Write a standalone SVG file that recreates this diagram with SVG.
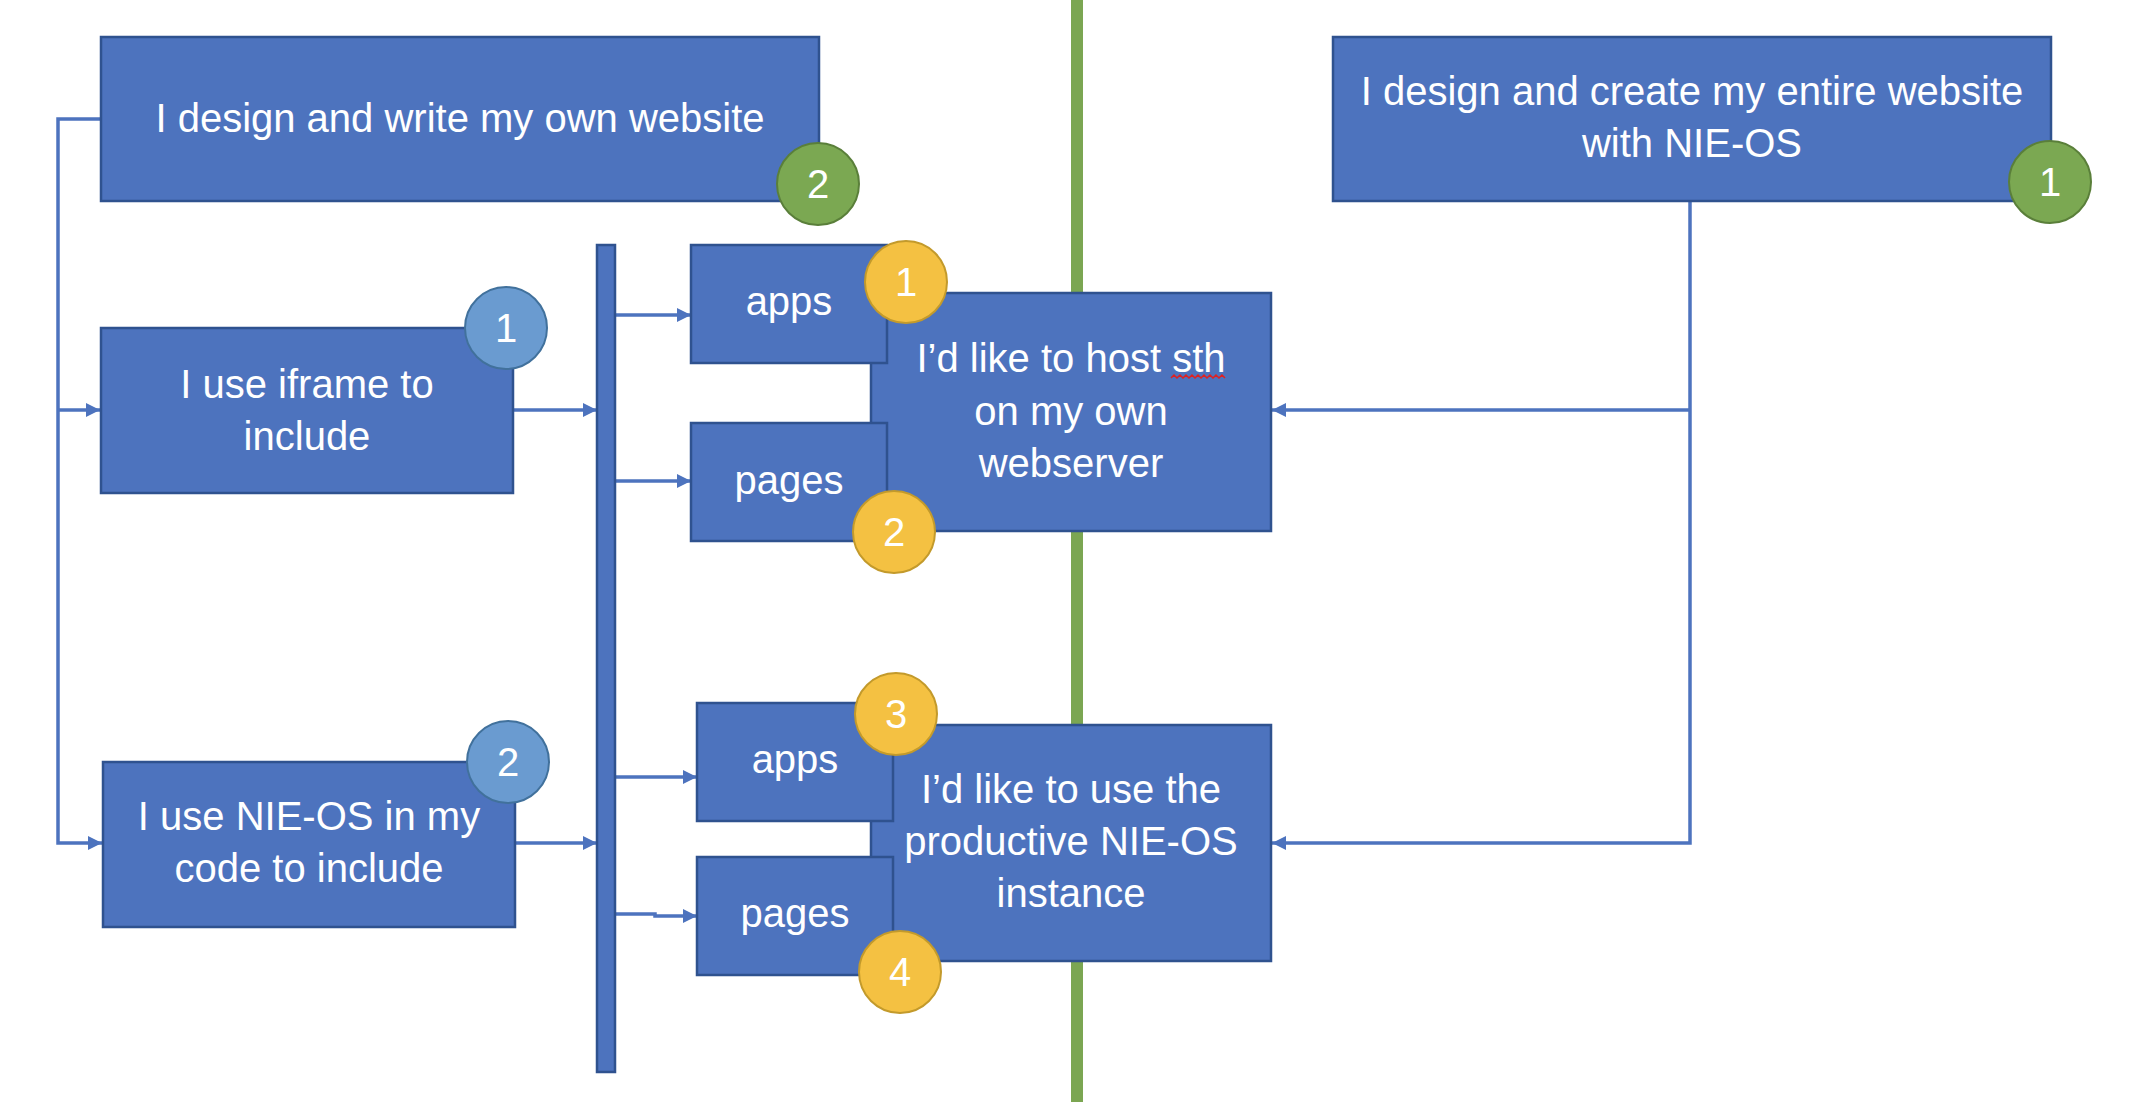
<svg xmlns="http://www.w3.org/2000/svg" width="2134" height="1102" viewBox="0 0 2134 1102">
<style>
.box{fill:#4D73BE;stroke:#2F528F;stroke-width:2.5}
.t{font-family:"Liberation Sans",Arial,sans-serif;font-size:40px;fill:#fff;text-anchor:middle}
.n{font-family:"Liberation Sans",Arial,sans-serif;font-size:40px;fill:#fff;text-anchor:middle}
.c{fill:none;stroke:#4D73BE;stroke-width:3.5}
.g{fill:#7BA852;stroke:#5A7F3A;stroke-width:2}
.y{fill:#F4C142;stroke:#C39A2B;stroke-width:2}
.b{fill:#6A9BD0;stroke:#41719C;stroke-width:2}
</style>
<defs>
<marker id="ah" viewBox="0 0 10 10" refX="10" refY="5" markerWidth="14" markerHeight="14" markerUnits="userSpaceOnUse" orient="auto">
<path d="M0,0 L10,5 L0,10 z" fill="#4D73BE"/>
</marker>
</defs>
<rect width="2134" height="1102" fill="#fff"/>
<line x1="1077" y1="0" x2="1077" y2="1102" stroke="#7BA652" stroke-width="12"/>
<g id="connectors">
<path class="c" d="M101,119 H58 V843 H102" marker-end="url(#ah)"/>
<path class="c" d="M58,410 H100" marker-end="url(#ah)"/>
<path class="c" d="M513,410 H597" marker-end="url(#ah)"/>
<path class="c" d="M515,843 H597" marker-end="url(#ah)"/>
<path class="c" d="M615,315 H691" marker-end="url(#ah)"/>
<path class="c" d="M615,481 H691" marker-end="url(#ah)"/>
<path class="c" d="M615,777 H697" marker-end="url(#ah)"/>
<path class="c" d="M615,914 H655 V916 H697" marker-end="url(#ah)"/>
<path class="c" d="M1690,201 V843 H1272" marker-end="url(#ah)"/>
<path class="c" d="M1690,410 H1272" marker-end="url(#ah)"/>
</g>
<g id="bus"><rect class="box" x="597" y="245" width="18" height="827"/></g>
<g id="own-website">
<rect class="box" x="101" y="37" width="718" height="164"/>
<text class="t" x="460" y="132">I design and write my own website</text>
</g>
<g id="nieos-website">
<rect class="box" x="1333" y="37" width="718" height="164"/>
<text class="t" x="1692" y="105">I design and create my entire website</text>
<text class="t" x="1692" y="157">with NIE-OS</text>
</g>
<g id="iframe">
<rect class="box" x="101" y="328" width="412" height="165"/>
<text class="t" x="307" y="398">I use iframe to</text>
<text class="t" x="307" y="450">include</text>
</g>
<g id="nieos-code">
<rect class="box" x="103" y="762" width="412" height="165"/>
<text class="t" x="309" y="830">I use NIE-OS in my</text>
<text class="t" x="309" y="882">code to include</text>
</g>
<g id="host">
<rect class="box" x="871" y="293" width="400" height="238"/>
<text class="t" x="1071" y="372">I’d like to host sth</text>
<text class="t" x="1071" y="425">on my own</text>
<text class="t" x="1071" y="477">webserver</text>
<path d="M1171,378 l3,-3 l3,3 l3,-3 l3,3 l3,-3 l3,3 l3,-3 l3,3 l3,-3 l3,3 l3,-3 l3,3 l3,-3 l3,3 l3,-3 l3,3 l3,-3 l3,3" fill="none" stroke="#E02020" stroke-width="1.5"/>
</g>
<g id="productive">
<rect class="box" x="871" y="725" width="400" height="236"/>
<text class="t" x="1071" y="803">I’d like to use the</text>
<text class="t" x="1071" y="855">productive NIE-OS</text>
<text class="t" x="1071" y="907">instance</text>
</g>
<g id="apps1">
<rect class="box" x="691" y="245" width="196" height="118"/>
<text class="t" x="789" y="315">apps</text>
</g>
<g id="pages1">
<rect class="box" x="691" y="423" width="196" height="118"/>
<text class="t" x="789" y="494">pages</text>
</g>
<g id="apps2">
<rect class="box" x="697" y="703" width="196" height="118"/>
<text class="t" x="795" y="773">apps</text>
</g>
<g id="pages2">
<rect class="box" x="697" y="857" width="196" height="118"/>
<text class="t" x="795" y="927">pages</text>
</g>
<g id="badge-g2"><circle class="g" cx="818" cy="184" r="41"/><text class="n" x="818" y="198">2</text></g>
<g id="badge-g1"><circle class="g" cx="2050" cy="182" r="41"/><text class="n" x="2050" y="196">1</text></g>
<g id="badge-b1"><circle class="b" cx="506" cy="328" r="41"/><text class="n" x="506" y="342">1</text></g>
<g id="badge-b2"><circle class="b" cx="508" cy="762" r="41"/><text class="n" x="508" y="776">2</text></g>
<g id="badge-y1"><circle class="y" cx="906" cy="282" r="41"/><text class="n" x="906" y="296">1</text></g>
<g id="badge-y2"><circle class="y" cx="894" cy="532" r="41"/><text class="n" x="894" y="546">2</text></g>
<g id="badge-y3"><circle class="y" cx="896" cy="714" r="41"/><text class="n" x="896" y="728">3</text></g>
<g id="badge-y4"><circle class="y" cx="900" cy="972" r="41"/><text class="n" x="900" y="986">4</text></g>
</svg>
